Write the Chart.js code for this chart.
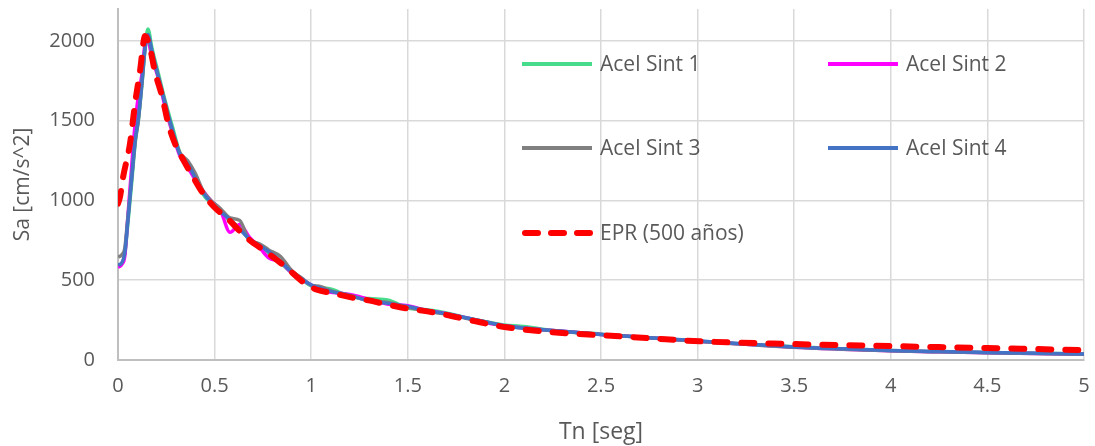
<!DOCTYPE html>
<html>
<head>
<meta charset="utf-8">
<script src="https://cdn.jsdelivr.net/npm/chart.js@4/dist/chart.umd.min.js"></script>
<style>
  html, body { margin: 0; padding: 0; background: #ffffff; }
  #wrap { width: 1095px; height: 446px; }
</style>
</head>
<body>
<div id="wrap"><canvas id="c" width="1095" height="446"></canvas></div>
<script>
// ---- Data ----
const periodsSint = [0, 0.02, 0.035, 0.05, 0.07, 0.09, 0.105, 0.125, 0.14, 0.155, 0.175, 0.21, 0.245, 0.28, 0.32, 0.36, 0.40, 0.44, 0.48, 0.53, 0.58, 0.63, 0.68, 0.73, 0.78, 0.84, 0.90, 0.95, 1.0, 1.05, 1.1, 1.2, 1.3, 1.4, 1.5, 1.6, 1.7, 1.8, 1.9, 2.0, 2.1, 2.25, 2.5, 2.75, 3.0, 3.25, 3.5, 3.75, 4.0, 4.25, 4.5, 4.75, 5.0];

const acelSint1 = [590, 605, 660, 840, 1100, 1370, 1500, 1740, 1950, 2075, 1960, 1790, 1620, 1470, 1300, 1220, 1150, 1040, 985, 935, 870, 830, 755, 725, 670, 610, 545, 505, 465, 455, 445, 400, 385, 375, 325, 315, 295, 265, 240, 220, 210, 185, 162, 140, 118, 100, 83, 70, 60, 53, 47, 42, 38];
const acelSint2 = [580, 600, 650, 880, 1200, 1500, 1650, 1800, 1980, 2000, 1900, 1760, 1580, 1430, 1280, 1210, 1130, 1060, 1000, 940, 800, 850, 770, 710, 640, 615, 545, 505, 470, 430, 425, 410, 380, 350, 340, 310, 290, 265, 235, 215, 200, 185, 160, 140, 118, 98, 80, 68, 58, 51, 45, 40, 36];
const acelSint3 = [645, 660, 700, 880, 1130, 1380, 1500, 1750, 1950, 2030, 1930, 1770, 1610, 1440, 1300, 1250, 1170, 1060, 1000, 950, 890, 875, 750, 730, 690, 650, 560, 515, 470, 460, 435, 405, 370, 360, 330, 305, 288, 262, 240, 212, 200, 183, 160, 140, 117, 98, 80, 68, 58, 51, 45, 40, 36];
const acelSint4 = [594, 610, 670, 860, 1130, 1390, 1510, 1760, 1960, 2040, 1940, 1770, 1600, 1450, 1290, 1230, 1140, 1050, 990, 930, 880, 820, 760, 720, 680, 620, 550, 510, 470, 450, 430, 405, 370, 355, 335, 310, 290, 265, 240, 215, 200, 185, 160, 140, 120, 100, 82, 70, 60, 53, 47, 42, 38];

const periodsEPR = [0, 0.01, 0.026, 0.062, 0.088, 0.114, 0.14, 0.165, 0.19, 0.23, 0.26, 0.295, 0.34, 0.39, 0.44, 0.5, 0.56, 0.67, 0.77, 0.87, 0.96, 1.03, 1.11, 1.2, 1.29, 1.46, 1.67, 1.84, 2.01, 2.24, 2.49, 2.75, 2.98, 3.5, 4.0, 4.5, 5.0];
const epr500 = [980, 1020, 1144, 1356, 1606, 1812, 2030, 1960, 1812, 1644, 1481, 1356, 1250, 1144, 1044, 956, 894, 762, 675, 581, 487, 440, 419, 394, 375, 331, 290, 245, 205, 175, 156, 137, 119, 100, 87, 75, 62];

const seriesNames = ['Acel Sint 1', 'Acel Sint 2', 'Acel Sint 3', 'Acel Sint 4', 'EPR (500 años)'];
const yTickValues = [0, 500, 1000, 1500, 2000];
const xTickValues = [0, 0.5, 1, 1.5, 2, 2.5, 3, 3.5, 4, 4.5, 5];
const xTitle = 'Tn [seg]';
const yTitle = 'Sa [cm/s^2]';

// ---- Build datasets ----
const pairs = (xs, ys) => xs.map((x, i) => ({ x: x, y: ys[i] }));
const FONT = "'Open Sans', 'DejaVu Sans', sans-serif";
const TXT = '#595959';

const datasets = [
  { label: seriesNames[0], data: pairs(periodsSint, acelSint1), borderColor: '#46DC8C', order: 4 },
  { label: seriesNames[1], data: pairs(periodsSint, acelSint2), borderColor: '#FF00FF', order: 3 },
  { label: seriesNames[2], data: pairs(periodsSint, acelSint3), borderColor: '#808080', order: 2 },
  { label: seriesNames[3], data: pairs(periodsSint, acelSint4), borderColor: '#4472C4', order: 1 },
  { label: seriesNames[4], data: pairs(periodsEPR, epr500), borderColor: '#FF0000', order: 0,
    borderDash: [13, 14], borderWidth: 6, borderCapStyle: 'round' }
].map(d => Object.assign({
  borderWidth: 3.5, pointRadius: 0, fill: false,
  cubicInterpolationMode: 'monotone', borderJoinStyle: 'round'
}, d));

// Custom in-plot legend (two columns, three rows)
const legendSlots = [
  { x: 522, y: 64 }, { x: 828, y: 64 },
  { x: 522, y: 148 }, { x: 828, y: 148 },
  { x: 522, y: 233 }
];
const gridLegend = {
  id: 'gridLegend',
  afterDraw(chart) {
    const ctx = chart.ctx;
    ctx.save();
    chart.data.datasets.forEach((ds, i) => {
      const s = legendSlots[i];
      if (!s) return;
      ctx.beginPath();
      ctx.strokeStyle = ds.borderColor;
      if (ds.borderDash) {
        ctx.lineWidth = 6;
        ctx.lineCap = 'round';
        ctx.setLineDash([13, 13]);
        ctx.moveTo(s.x + 3, s.y);
        ctx.lineTo(s.x + 72, s.y);
      } else {
        ctx.lineWidth = 4;
        ctx.lineCap = 'butt';
        ctx.setLineDash([]);
        ctx.moveTo(s.x, s.y);
        ctx.lineTo(s.x + 70, s.y);
      }
      ctx.stroke();
      ctx.setLineDash([]);
      ctx.fillStyle = TXT;
      ctx.font = '21px ' + FONT;
      ctx.textBaseline = 'middle';
      ctx.textAlign = 'left';
      ctx.fillText(ds.label, s.x + 78, s.y + 1);
    });
    ctx.restore();
  }
};

const noEdgePadding = s => { s.paddingTop = 0; s.paddingBottom = 0; s.paddingLeft = 0; s.paddingRight = 0; };

new Chart(document.getElementById('c'), {
  type: 'line',
  data: { datasets: datasets },
  options: {
    responsive: false,
    devicePixelRatio: 1,
    animation: false,
    layout: { padding: { top: 9, right: 11, left: 0, bottom: 0 } },
    plugins: { legend: { display: false }, tooltip: { enabled: false } },
    scales: {
      x: {
        type: 'linear', min: 0, max: 5,
        afterBuildTicks: s => { s.ticks = xTickValues.map(v => ({ value: v })); },
        afterFit: s => { s.height = 86; noEdgePadding(s); },
        grid: { color: '#d9d9d9', lineWidth: 1.5, drawTicks: false },
        border: { color: '#bfbfbf', width: 2 },
        ticks: { color: TXT, font: { family: FONT, size: 20 }, padding: 14, maxRotation: 0,
                 callback: v => String(v) },
        title: { display: true, text: xTitle, color: TXT, font: { family: FONT, size: 23 },
                 padding: { top: 4, bottom: 0 } }
      },
      y: {
        type: 'linear', min: 0, max: 2200,
        afterBuildTicks: s => { s.ticks = yTickValues.map(v => ({ value: v })); },
        afterFit: s => { s.width = 118; noEdgePadding(s); },
        grid: { color: '#d9d9d9', lineWidth: 1.5, drawTicks: false },
        border: { color: '#bfbfbf', width: 2 },
        ticks: { color: TXT, font: { family: FONT, size: 20 }, padding: 23,
                 callback: v => String(v) },
        title: { display: true, text: yTitle, color: TXT, font: { family: FONT, size: 21 },
                 padding: { top: 10, bottom: 0 } }
      }
    }
  },
  plugins: [gridLegend]
});
</script>
</body>
</html>
